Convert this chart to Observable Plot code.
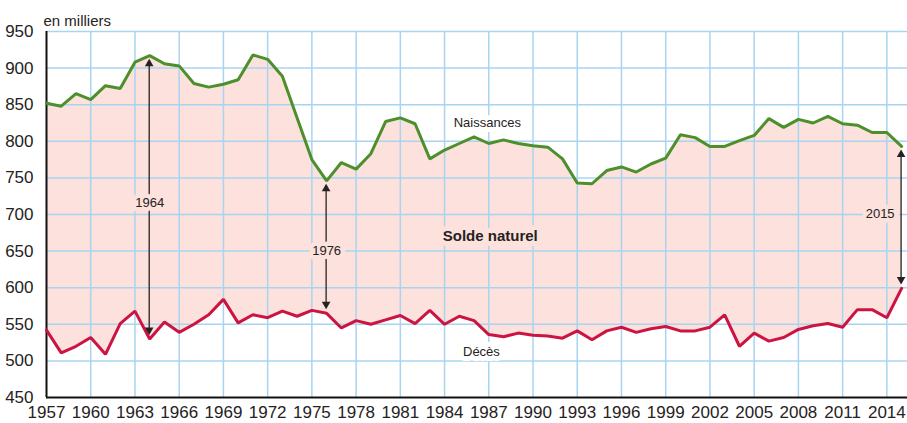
<!DOCTYPE html>
<html>
<head>
<meta charset="utf-8">
<script src="https://cdn.jsdelivr.net/npm/d3@7"></script>
<script src="https://cdn.jsdelivr.net/npm/@observablehq/plot@0.6"></script>
<style>
  html, body { margin: 0; padding: 0; background: #fff; }
  #chart svg { display: block; }
</style>
</head>
<body>
<div id="chart"></div>
<script>
// ---- Data (in thousands) ----
const years = d3.range(1957, 2016);
const births = [852, 848, 865, 857, 876, 872, 908, 917, 906, 903,
                879, 874, 878, 884, 918, 912, 889, 832, 775, 746,
                771, 762, 783, 827, 832, 824, 776, 788, 797, 806,
                797, 802, 797, 794, 792, 776, 743, 742, 760, 765,
                758, 769, 777, 809, 805, 793, 793, 801, 808, 831,
                819, 830, 825, 834, 824, 822, 812, 812, 793];
const deaths = [542, 511, 520, 532, 509, 551, 568, 530, 553, 539,
                550, 563, 584, 552, 563, 559, 568, 561, 569, 565,
                545, 555, 550, 556, 562, 551, 569, 550, 561, 555,
                536, 533, 538, 535, 534, 531, 541, 529, 541, 546,
                539, 544, 547, 541, 541, 546, 563, 520, 538, 527,
                532, 543, 548, 551, 546, 570, 570, 559, 599];
const xTicks = [1957, 1960, 1963, 1966, 1969, 1972, 1975, 1978, 1981, 1984, 1987,
                1990, 1993, 1996, 1999, 2002, 2005, 2008, 2011, 2014];
const yTicks = [450, 500, 550, 600, 650, 700, 750, 800, 850, 900, 950];
const arrowYears = [1964, 1976, 2015];
const arrowLabelY = [716, 651, 701];
const seriesLabels = [
  {text: "Naissances", x: 1986.9, y: 825},
  {text: "Décès", x: 1986.5, y: 512}
];
const centerLabel = {text: "Solde naturel", x: 1987.1, y: 670};

// ---- Build tables ----
const rows = years.map((year, i) => ({year, births: births[i], deaths: deaths[i]}));
const arrows = arrowYears.map((year, i) => ({
  year,
  births: births[years.indexOf(year)],
  deaths: deaths[years.indexOf(year)],
  labelY: arrowLabelY[i],
  label: String(year)
}));

const PINK = "#fce1dc";
const GRID = "#a9d4f0";
const GREEN = "#4c8f2b";
const RED = "#cc1442";
const INK = "#262223";
const FONT = "'Liberation Sans', Arial, sans-serif";
const TICKFONT = "'Liberation Sans Narrow', 'Arial Narrow', 'Liberation Sans', sans-serif";

const chart = Plot.plot({
  width: 907,
  height: 423,
  marginLeft: 46,
  marginRight: 0,
  marginTop: 31,
  marginBottom: 26,
  style: {fontFamily: FONT, fontSize: "15px", color: INK, background: "#fff"},
  x: {domain: [1957, 2015.4]},
  y: {domain: [450, 950]},
  marks: [
    Plot.areaY(rows, {x: "year", y1: "deaths", y2: "births", fill: PINK}),
    Plot.gridX(xTicks.filter(d => d > 1957), {stroke: GRID, strokeOpacity: 1, strokeWidth: 1.5}),
    Plot.gridY(yTicks.filter(d => d > 450), {stroke: GRID, strokeOpacity: 1, strokeWidth: 1.5}),
    Plot.axisX(xTicks, {tickSize: 0, tickPadding: 8, tickFormat: d => String(d), fontSize: 17, fontFamily: TICKFONT, fill: INK, label: null}),
    Plot.axisY(yTicks, {tickSize: 0, tickPadding: 13, tickFormat: d => String(d), fontSize: 17, fontFamily: TICKFONT, fill: INK, label: null}),
    Plot.ruleX([1957], {stroke: "#111", strokeWidth: 2}),
    Plot.ruleY([450], {stroke: "#111", strokeWidth: 2}),
    Plot.line(rows, {x: "year", y: "births", stroke: GREEN, strokeWidth: 3, strokeLinejoin: "miter"}),
    Plot.line(rows, {x: "year", y: "deaths", stroke: RED, strokeWidth: 3, strokeLinejoin: "miter"}),
    // arrows
    Plot.ruleX(arrows, {x: "year", y1: "births", y2: "deaths", stroke: INK, strokeWidth: 1.3, insetTop: 8, insetBottom: 8, dx: -0.5}),
    Plot.dot(arrows, {x: "year", y: "births", symbol: "triangle", r: 3.2, fill: INK, stroke: null, dy: 8, dx: -0.5}),
    Plot.dot(arrows, {x: "year", y: "deaths", symbol: "triangle", r: 3.2, fill: INK, stroke: null, rotate: 180, dy: -9, dx: -0.5}),
    // arrow labels
    Plot.text(arrows.filter(d => d.year !== 2015), {x: "year", y: "labelY", text: "label", fontSize: 13, fill: INK,
      stroke: PINK, strokeWidth: 9, strokeLinejoin: "round"}),
    Plot.text(arrows.filter(d => d.year === 2015), {x: "year", y: "labelY", text: "label", fontSize: 13, fill: INK,
      stroke: PINK, strokeWidth: 9, strokeLinejoin: "round", textAnchor: "end", dx: -7}),
    // series labels
    Plot.text(seriesLabels, {x: "x", y: "y", text: "text", fontSize: 13, fill: INK,
      stroke: "#fff", strokeWidth: 10, strokeLinejoin: "round"}),
    Plot.text([centerLabel], {x: "x", y: "y", text: "text", fontSize: 15, fontWeight: "bold", fill: INK,
      stroke: PINK, strokeWidth: 10, strokeLinejoin: "round"}),
    // unit
    Plot.text(["en milliers"], {frameAnchor: "top-left", text: d => d, textAnchor: "start", fontSize: 15, fill: INK, dx: -3, dy: -16})
  ]
});

document.getElementById("chart").appendChild(chart);
</script>
</body>
</html>
